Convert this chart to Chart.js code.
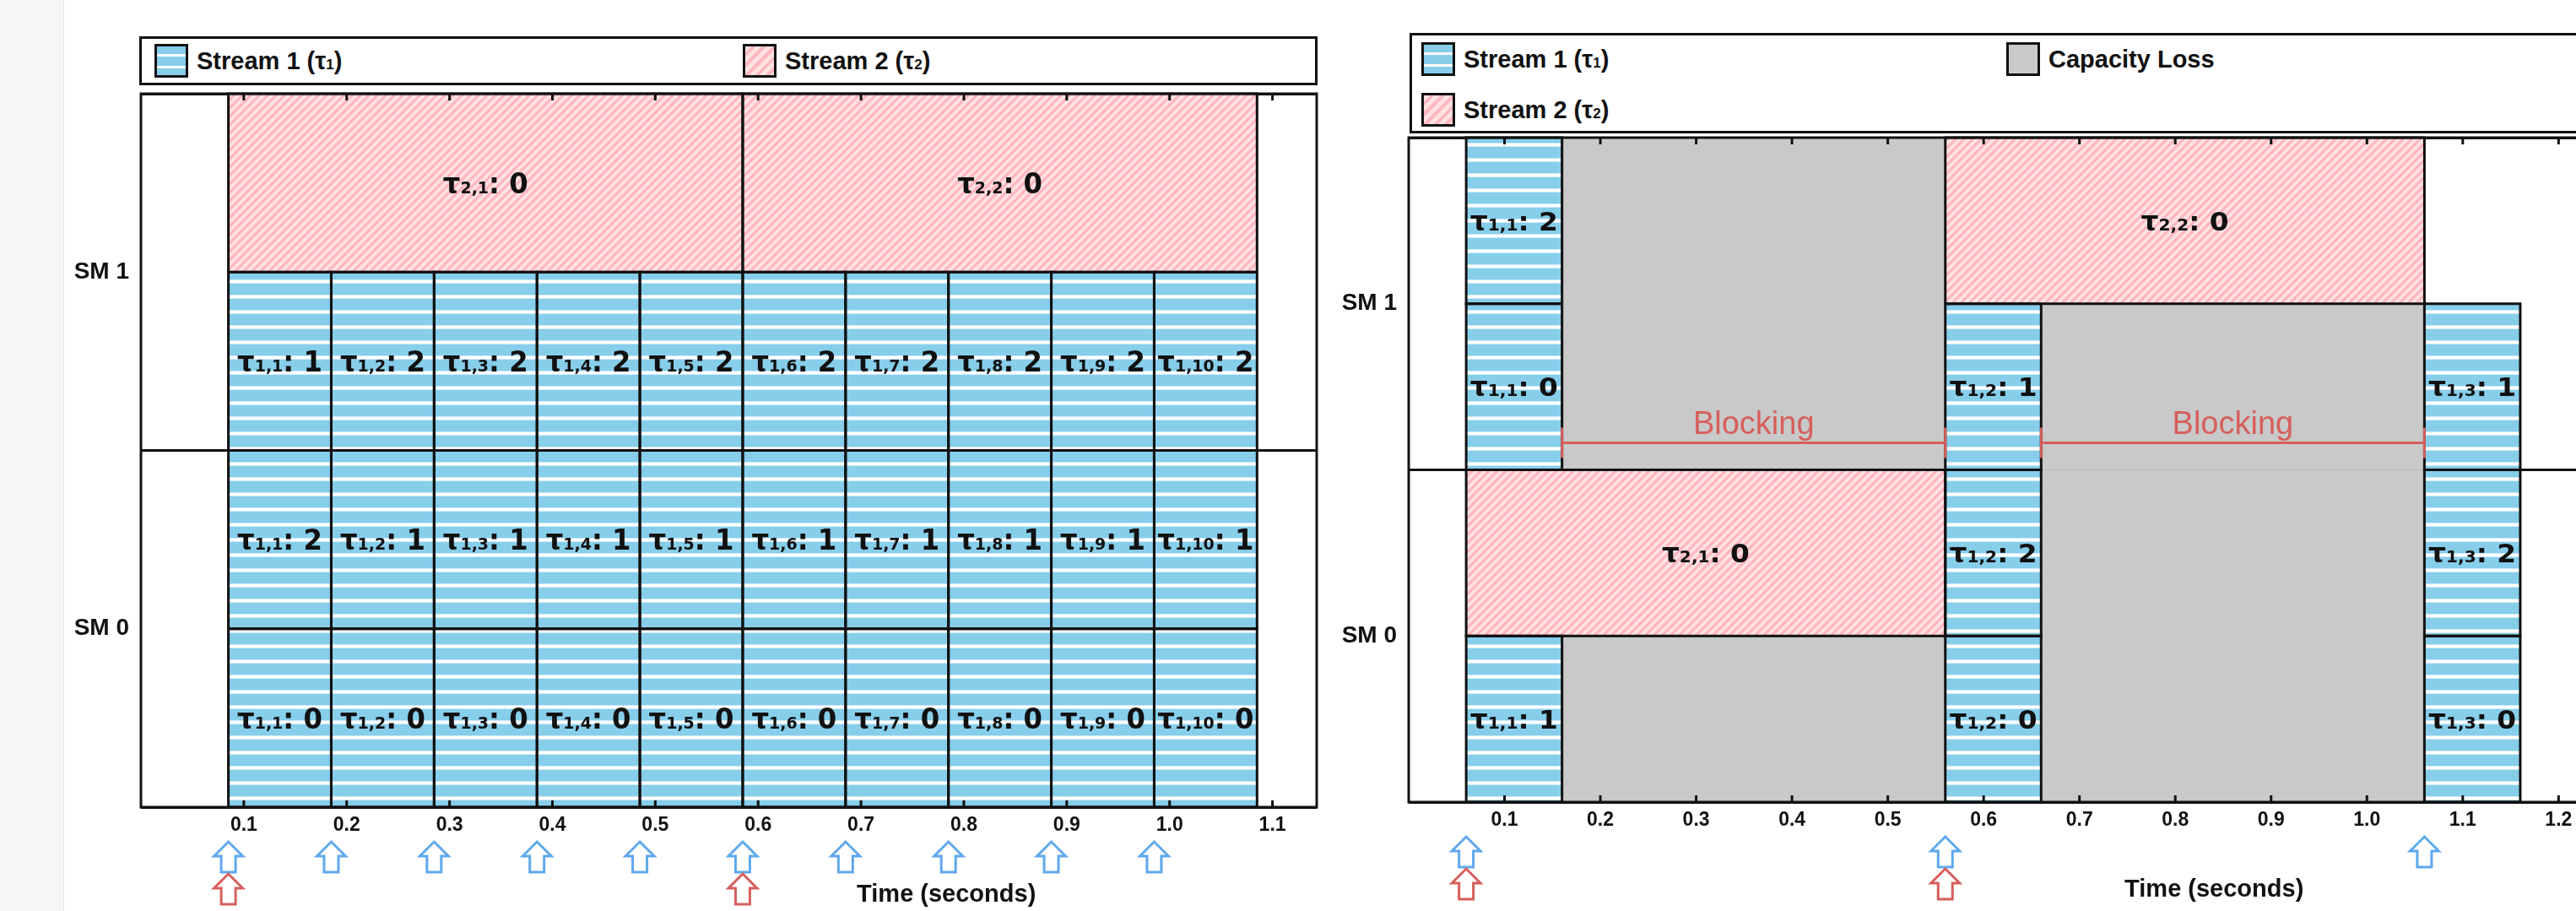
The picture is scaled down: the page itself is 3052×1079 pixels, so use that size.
<!DOCTYPE html>
<html>
<head>
<meta charset="utf-8">
<script src="https://cdn.jsdelivr.net/npm/chart.js@4.4.1/dist/chart.umd.min.js"></script>
<style>
html,body{margin:0;padding:0;background:#fff;width:3052px;height:1079px;overflow:hidden;}
body{position:relative;font-family:"Liberation Sans",Arial,sans-serif;}
#strip{position:absolute;left:0;top:0;width:75px;height:1079px;background:#f6f6f6;border-right:1px solid #e4e4e4;}
canvas{position:absolute;top:0;}
#c1{left:0;}
#c2{left:1502px;}
.legend{position:absolute;border:3px solid #111;box-sizing:border-box;background:#fff;}
.item{position:absolute;height:40px;display:flex;align-items:center;font-weight:bold;font-size:29px;color:#111;white-space:nowrap;}
.sw{width:40px;height:40px;box-sizing:border-box;border:3px solid #111;margin-right:10px;flex:none;}
.s1{background:repeating-linear-gradient(to bottom,#87ceeb 0px,#87ceeb 9px,#fff 9px,#fff 12px,#87ceeb 12px,#87ceeb 14px);}
.s2{background:repeating-linear-gradient(135deg,#ffe2e2 0px,#ffe2e2 5px,#ffb8c0 5px,#ffb8c0 9px);}
.s3{background:#c9c9c9;}
.sb{font-size:17px;vertical-align:baseline;}
</style>
</head>
<body>
<div id="strip"></div>
<canvas id="c1" width="1580" height="1079"></canvas>
<canvas id="c2" width="1580" height="1079"></canvas>

<div class="legend" style="left:165px;top:43px;width:1396px;height:58px;">
  <div class="item" style="left:15px;top:6px;"><div class="sw s1"></div><span>Stream 1 (τ<span class="sb">1</span>)</span></div>
  <div class="item" style="left:712px;top:6px;"><div class="sw s2"></div><span>Stream 2 (τ<span class="sb">2</span>)</span></div>
</div>
<div class="legend" style="left:1670px;top:39px;width:1400px;height:119px;">
  <div class="item" style="left:11px;top:8px;"><div class="sw s1"></div><span>Stream 1 (τ<span class="sb">1</span>)</span></div>
  <div class="item" style="left:704px;top:8px;"><div class="sw s3"></div><span>Capacity Loss</span></div>
  <div class="item" style="left:11px;top:68px;"><div class="sw s2"></div><span>Stream 2 (τ<span class="sb">2</span>)</span></div>
</div>

<script>
// ---------------- DATA ----------------
// y slots, top to bottom (two execution slots per SM)
const slotLabels = ['SM 1 · slot 1', 'SM 1 · slot 0', 'SM 0 · slot 1', 'SM 0 · slot 0'];
const smLabels = ['SM 1', 'SM 0'];

// Left chart
const leftTickValues = [0.1, 0.2, 0.3, 0.4, 0.5, 0.6, 0.7, 0.8, 0.9, 1.0, 1.1];
const leftTickLabels = ['0.1', '0.2', '0.3', '0.4', '0.5', '0.6', '0.7', '0.8', '0.9', '1.0', '1.1'];
const leftS1Job   = [1, 2, 3, 4, 5, 6, 7, 8, 9, 10];
const leftS1Start = [0.085, 0.185, 0.285, 0.385, 0.485, 0.585, 0.685, 0.785, 0.885, 0.985];
const leftS1End   = [0.185, 0.285, 0.385, 0.485, 0.585, 0.685, 0.785, 0.885, 0.985, 1.085];
const leftS1BlockSM0Low  = [0, 0, 0, 0, 0, 0, 0, 0, 0, 0];
const leftS1BlockSM0High = [2, 1, 1, 1, 1, 1, 1, 1, 1, 1];
const leftS1BlockSM1Low  = [1, 2, 2, 2, 2, 2, 2, 2, 2, 2];
const leftS2Job   = [1, 2];
const leftS2Start = [0.085, 0.585];
const leftS2End   = [0.585, 1.085];
const leftS2Block = [0, 0];
const leftRelease1 = [0.085, 0.185, 0.285, 0.385, 0.485, 0.585, 0.685, 0.785, 0.885, 0.985];
const leftRelease2 = [0.085, 0.585];

// Right chart
const rightTickValues = [0.1, 0.2, 0.3, 0.4, 0.5, 0.6, 0.7, 0.8, 0.9, 1.0, 1.1, 1.2];
const rightTickLabels = ['0.1', '0.2', '0.3', '0.4', '0.5', '0.6', '0.7', '0.8', '0.9', '1.0', '1.1', '1.2'];
const rightS1Job   = [1, 1, 1, 2, 2, 2, 3, 3, 3];
const rightS1Block = [2, 0, 1, 1, 2, 0, 1, 2, 0];
const rightS1Slot  = [0, 1, 3, 1, 2, 3, 1, 2, 3];
const rightS1Start = [0.06, 0.06, 0.06, 0.56, 0.56, 0.56, 1.06, 1.06, 1.06];
const rightS1End   = [0.16, 0.16, 0.16, 0.66, 0.66, 0.66, 1.16, 1.16, 1.16];
const rightS2Job   = [1, 2];
const rightS2Block = [0, 0];
const rightS2Slot  = [2, 0];
const rightS2Start = [0.06, 0.56];
const rightS2End   = [0.56, 1.06];
const rightLossSlot  = [0, 1, 3, 1, 2, 3];
const rightLossStart = [0.16, 0.16, 0.16, 0.66, 0.66, 0.66];
const rightLossEnd   = [0.56, 0.56, 0.56, 1.06, 1.06, 1.06];
const rightBlockSlot  = [1, 1];
const rightBlockStart = [0.16, 0.66];
const rightBlockEnd   = [0.56, 1.06];
const rightRelease1 = [0.06, 0.56, 1.06];
const rightRelease2 = [0.06, 0.56];

// ---------------- HELPERS ----------------
const FONT = '"Liberation Sans", Arial, sans-serif';
const CELL_FONT = '"DejaVu Sans", sans-serif';
const INK = '#111';
const BLUE_ARROW = '#5fa8ee';
const RED = '#d65f5c';

function bluePattern(ctx) {
  const c = document.createElement('canvas'); c.width = 8; c.height = 18;
  const g = c.getContext('2d');
  g.fillStyle = '#87ceeb'; g.fillRect(0, 0, 8, 18);
  g.fillStyle = '#cdebf7'; g.fillRect(0, 7, 8, 5);
  g.fillStyle = '#ffffff'; g.fillRect(0, 8, 8, 3);
  return ctx.createPattern(c, 'repeat');
}
function pinkPattern(ctx) {
  const c = document.createElement('canvas'); c.width = 10; c.height = 10;
  const g = c.getContext('2d');
  g.fillStyle = '#ffe2e2'; g.fillRect(0, 0, 10, 10);
  g.strokeStyle = '#ffb6bf'; g.lineWidth = 3.2;
  g.beginPath();
  g.moveTo(-1, 11); g.lineTo(11, -1);
  g.moveTo(-6, 6); g.lineTo(6, -6);
  g.moveTo(4, 16); g.lineTo(16, 4);
  g.stroke();
  return ctx.createPattern(c, 'repeat');
}
function bars(slots, starts, ends) {
  return starts.map((s, i) => ({ x: [s, ends[i]], y: slotLabels[slots[i]] }));
}
function drawCell(ctx, cx, cy, stream, job, block, size, sx) {
  const big = 'bold ' + size + 'px ' + CELL_FONT;
  const small = 'bold ' + Math.round(size * 0.6) + 'px ' + CELL_FONT;
  const parts = [['τ', big], [stream + ',' + job, small], [': ', big], [String(block), big]];
  let total = 0;
  parts.forEach(p => { ctx.font = p[1]; p.push(ctx.measureText(p[0]).width); total += p[2]; });
  ctx.save();
  ctx.translate(cx, cy + size * 0.36);
  ctx.scale(sx, 1);
  let x = -total / 2;
  ctx.fillStyle = INK; ctx.textAlign = 'left'; ctx.textBaseline = 'alphabetic';
  parts.forEach(p => { ctx.font = p[1]; ctx.fillText(p[0], x, 0); x += p[2]; });
  ctx.restore();
}
function drawArrow(ctx, cx, top, color) {
  const h = 36, hw = 17, sw = 8.5, hh = 17;
  ctx.save();
  ctx.strokeStyle = color; ctx.lineWidth = 3; ctx.lineJoin = 'miter';
  ctx.beginPath();
  ctx.moveTo(cx, top);
  ctx.lineTo(cx + hw, top + hh);
  ctx.lineTo(cx + sw, top + hh);
  ctx.lineTo(cx + sw, top + h);
  ctx.lineTo(cx - sw, top + h);
  ctx.lineTo(cx - sw, top + hh);
  ctx.lineTo(cx - hw, top + hh);
  ctx.closePath();
  ctx.stroke();
  ctx.restore();
}

const ganttPlugin = {
  id: 'gantt',
  afterDatasetsDraw(chart) {
    const ctx = chart.ctx;
    const cfg = chart.options.plugins.gantt;
    ctx.save();
    chart.data.datasets.forEach((ds, i) => {
      if (!ds.outline) return;
      chart.getDatasetMeta(i).data.forEach(el => {
        const p = el.getProps(['x', 'y', 'base', 'height'], true);
        const l = Math.min(p.x, p.base), w = Math.abs(p.x - p.base);
        ctx.lineWidth = 3; ctx.strokeStyle = INK;
        ctx.strokeRect(l, p.y - p.height / 2, w, p.height);
      });
    });
    chart.data.datasets.forEach((ds, i) => {
      if (!ds.cells) return;
      chart.getDatasetMeta(i).data.forEach((el, j) => {
        const p = el.getProps(['x', 'y', 'base'], true);
        const c = ds.cells[j];
        drawCell(ctx, (p.x + p.base) / 2, p.y, c[0], c[1], c[2], cfg.cellSize, cfg.cellScale);
      });
    });
    // blocking annotations
    if (cfg.blocking) {
      const xs = chart.scales.x, ys = chart.scales.slot;
      const b = cfg.blocking;
      b.start.forEach((s, i) => {
        const x1 = xs.getPixelForValue(s), x2 = xs.getPixelForValue(b.end[i]);
        const yb = ys.getPixelForValue(b.slot[i] + 0.5);
        const y = yb - 32;
        ctx.strokeStyle = RED; ctx.lineWidth = 3;
        ctx.beginPath();
        ctx.moveTo(x1, y); ctx.lineTo(x2, y);
        ctx.moveTo(x1, y - 18); ctx.lineTo(x1, y + 18);
        ctx.moveTo(x2, y - 18); ctx.lineTo(x2, y + 18);
        ctx.stroke();
        ctx.fillStyle = RED; ctx.font = '38px ' + FONT;
        ctx.textAlign = 'center'; ctx.textBaseline = 'alphabetic';
        ctx.fillText(b.label, (x1 + x2) / 2, y - 11);
      });
    }
    ctx.restore();
  },
  afterDraw(chart) {
    const ctx = chart.ctx, a = chart.chartArea, xs = chart.scales.x;
    const cfg = chart.options.plugins.gantt;
    ctx.save();
    // frame
    ctx.strokeStyle = INK; ctx.lineWidth = 3;
    ctx.strokeRect(a.left, a.top, a.right - a.left, a.bottom - a.top);
    // inward ticks top and bottom
    ctx.beginPath();
    xs.ticks.forEach(t => {
      const x = xs.getPixelForValue(t.value);
      ctx.moveTo(x, a.bottom); ctx.lineTo(x, a.bottom - 8);
      ctx.moveTo(x, a.top); ctx.lineTo(x, a.top + 8);
    });
    ctx.stroke();
    // release arrows
    cfg.release1.forEach(v => drawArrow(ctx, xs.getPixelForValue(v), a.bottom + 41, BLUE_ARROW));
    cfg.release2.forEach(v => drawArrow(ctx, xs.getPixelForValue(v), a.bottom + 79, RED));
    // axis title
    ctx.fillStyle = INK; ctx.font = 'bold 29px ' + FONT;
    ctx.textAlign = 'center'; ctx.textBaseline = 'middle';
    ctx.fillText('Time (seconds)', a.left + 0.685 * (a.right - a.left), a.bottom + 104);
    ctx.restore();
  }
};

function makeChart(canvas, cfg) {
  const ctx = canvas.getContext('2d');
  const base = { yAxisID: 'slot', xAxisID: 'x', grouped: false, barPercentage: 1, categoryPercentage: 1, borderWidth: 0, borderSkipped: false };
  const datasets = [
    Object.assign({}, base, { label: 'Stream 1 (τ1)', data: cfg.s1, cells: cfg.s1cells, backgroundColor: bluePattern(ctx), outline: true }),
    Object.assign({}, base, { label: 'Stream 2 (τ2)', data: cfg.s2, cells: cfg.s2cells, backgroundColor: pinkPattern(ctx), outline: true }),
    Object.assign({}, base, { label: 'Capacity Loss', data: cfg.loss, backgroundColor: '#c9c9c9', outline: false })
  ];
  return new Chart(ctx, {
    type: 'bar',
    data: { datasets },
    options: {
      indexAxis: 'y', responsive: false, animation: false, events: [],
      layout: { padding: { left: 0, right: 20, top: cfg.top, bottom: 0 } },
      plugins: {
        legend: { display: false }, tooltip: { enabled: false },
        gantt: { release1: cfg.release1, release2: cfg.release2, blocking: cfg.blocking, cellSize: cfg.cellSize, cellScale: cfg.cellScale }
      },
      scales: {
        x: {
          type: 'linear', position: 'bottom', min: 0, max: cfg.xMax,
          afterBuildTicks: s => { s.ticks = cfg.tickValues.map(v => ({ value: v })); },
          afterFit: s => { s.height = 1079 - cfg.bottom; },
          grid: { display: false, drawTicks: false }, border: { display: false },
          ticks: { autoSkip: false, maxRotation: 0, padding: 8, color: INK,
                   font: { family: FONT, weight: 'bold', size: 23 },
                   callback: (v, i) => cfg.tickLabels[i] }
        },
        slot: { type: 'category', labels: slotLabels, position: 'left', display: false, offset: true },
        sm: {
          type: 'category', labels: smLabels, position: 'left', offset: true, z: 1,
          afterFit: s => { s.width = 167; },
          grid: { offset: true, color: INK, lineWidth: 3, drawTicks: false }, border: { display: false },
          ticks: { padding: 14, color: INK, font: { family: FONT, weight: 'bold', size: 28 } }
        }
      }
    },
    plugins: [ganttPlugin]
  });
}

// ---------------- LEFT CHART ----------------
const lS1 = [], lS1cells = [];
leftS1Job.forEach((j, k) => {
  lS1.push({ x: [leftS1Start[k], leftS1End[k]], y: slotLabels[3] }); lS1cells.push([1, j, leftS1BlockSM0Low[k]]);
  lS1.push({ x: [leftS1Start[k], leftS1End[k]], y: slotLabels[2] }); lS1cells.push([1, j, leftS1BlockSM0High[k]]);
  lS1.push({ x: [leftS1Start[k], leftS1End[k]], y: slotLabels[1] }); lS1cells.push([1, j, leftS1BlockSM1Low[k]]);
});
makeChart(document.getElementById('c1'), {
  top: 111, bottom: 956, xMax: 1.143, cellSize: 34, cellScale: 0.95,
  tickValues: leftTickValues, tickLabels: leftTickLabels,
  s1: lS1, s1cells: lS1cells,
  s2: bars([0, 0], leftS2Start, leftS2End), s2cells: leftS2Job.map((j, k) => [2, j, leftS2Block[k]]),
  loss: [],
  release1: leftRelease1, release2: leftRelease2, blocking: null
});

// ---------------- RIGHT CHART ----------------
makeChart(document.getElementById('c2'), {
  top: 163, bottom: 950, xMax: 1.227, cellSize: 31, cellScale: 1.06,
  tickValues: rightTickValues, tickLabels: rightTickLabels,
  s1: bars(rightS1Slot, rightS1Start, rightS1End), s1cells: rightS1Job.map((j, k) => [1, j, rightS1Block[k]]),
  s2: bars(rightS2Slot, rightS2Start, rightS2End), s2cells: rightS2Job.map((j, k) => [2, j, rightS2Block[k]]),
  loss: bars(rightLossSlot, rightLossStart, rightLossEnd),
  release1: rightRelease1, release2: rightRelease2,
  blocking: { slot: rightBlockSlot, start: rightBlockStart, end: rightBlockEnd, label: 'Blocking' }
});
</script>
</body>
</html>
